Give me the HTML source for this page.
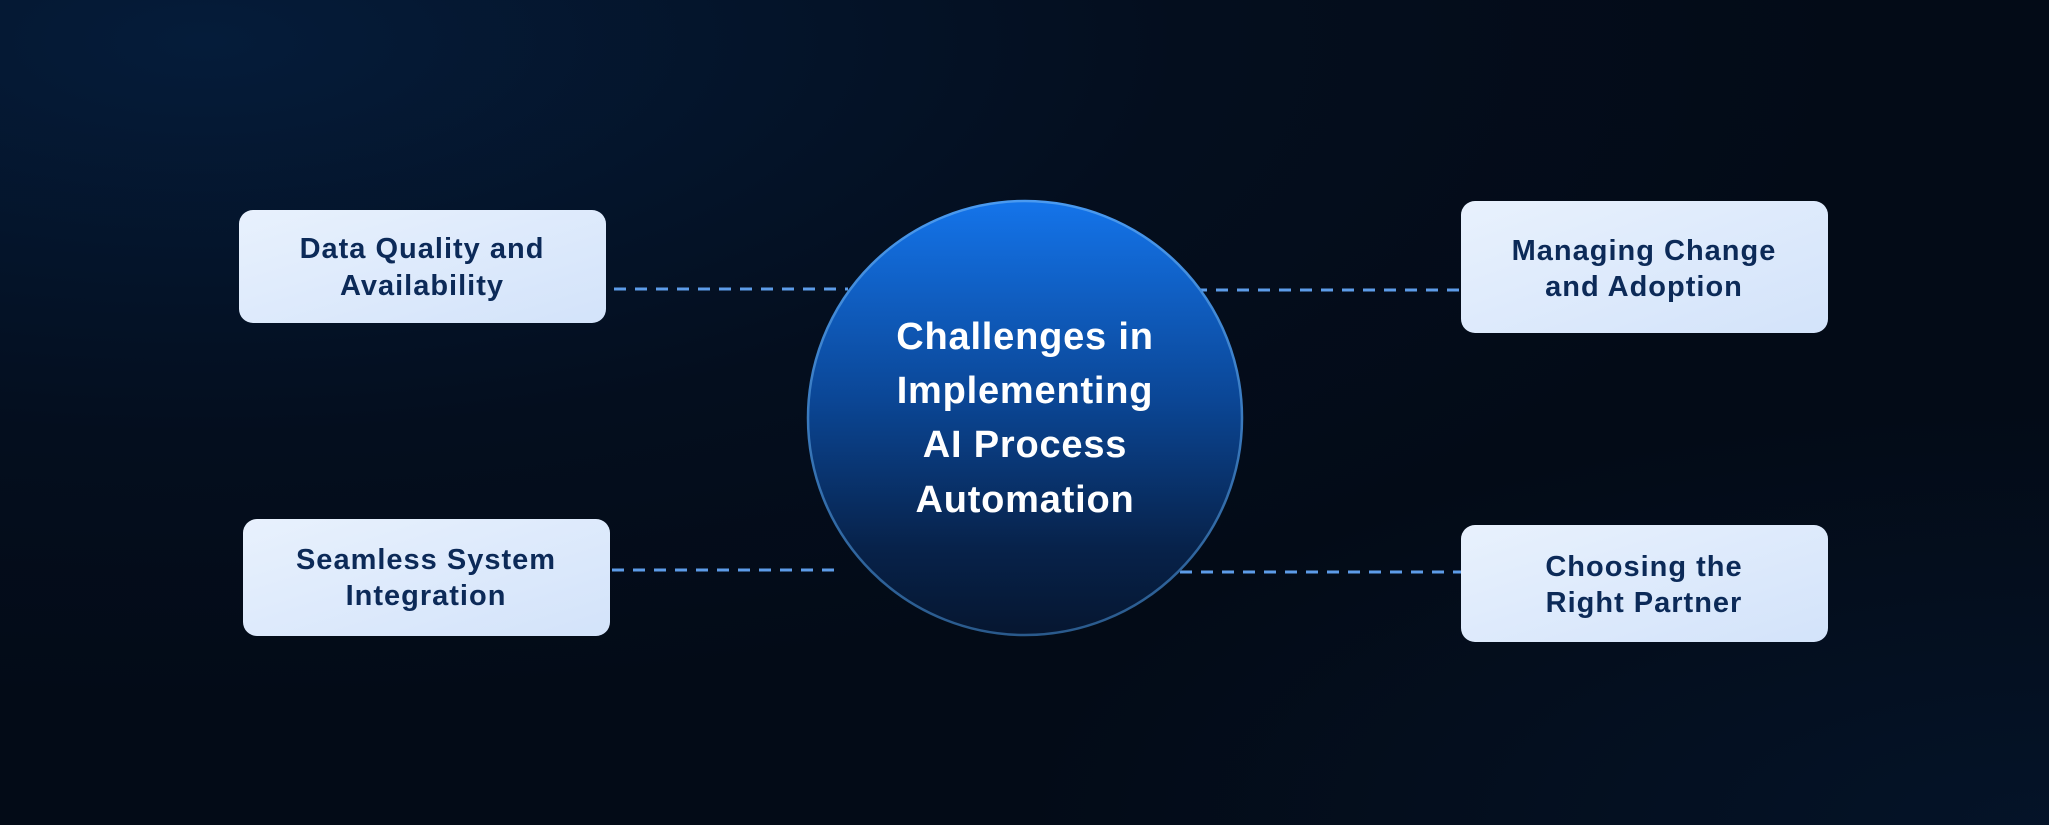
<!DOCTYPE html>
<html><head><meta charset="utf-8"><style>
html,body{margin:0;padding:0;width:2049px;height:825px;overflow:hidden;background:#040c1a}
svg{display:block}
</style></head><body>
<svg width="2049" height="825" viewBox="0 0 2049 825" xmlns="http://www.w3.org/2000/svg">
<defs>
<radialGradient id="bg1" cx="0.1" cy="0.05" r="0.8">
<stop offset="0" stop-color="#051c3a"/><stop offset="0.6" stop-color="#040e1e"/><stop offset="1" stop-color="#030b17"/>
</radialGradient>
<radialGradient id="bg2" cx="1" cy="1" r="0.5">
<stop offset="0" stop-color="#061a36" stop-opacity="0.55"/><stop offset="1" stop-color="#061a36" stop-opacity="0"/>
</radialGradient>
<linearGradient id="cg" x1="0" y1="0" x2="0" y2="1">
<stop offset="0" stop-color="#1474ea"/><stop offset="0.45" stop-color="#0b4797"/><stop offset="0.8" stop-color="#07224a"/><stop offset="1" stop-color="#061630"/>
</linearGradient>
<linearGradient id="cs" x1="0" y1="0" x2="0" y2="1">
<stop offset="0" stop-color="#4a9af0"/><stop offset="1" stop-color="#2a5a8c"/>
</linearGradient>
<linearGradient id="bx" x1="0" y1="0" x2="1" y2="1">
<stop offset="0" stop-color="#e8f1fd"/><stop offset="1" stop-color="#d3e3fa"/>
</linearGradient>
</defs>
<rect width="2049" height="825" fill="url(#bg1)"/>
<rect width="2049" height="825" fill="url(#bg2)"/>
<g stroke="#5d9ce8" stroke-width="3" stroke-dasharray="12 9" fill="none">
<line x1="614" y1="289" x2="848" y2="289"/>
<line x1="1195" y1="290" x2="1461" y2="290"/>
<line x1="612" y1="570" x2="834" y2="570"/>
<line x1="1180" y1="572" x2="1461" y2="572"/>
</g>
<circle cx="1025" cy="418" r="217" fill="url(#cg)" stroke="url(#cs)" stroke-width="2.5"/>
<g font-family="Liberation Sans, sans-serif" font-weight="bold" fill="#ffffff" font-size="38" letter-spacing="0.8" text-anchor="middle">
<text x="1025" y="349">Challenges in</text>
<text x="1025" y="403">Implementing</text>
<text x="1025" y="457">AI Process</text>
<text x="1025" y="512">Automation</text>
</g>
<rect x="239" y="210" width="367" height="113" rx="14" fill="url(#bx)"/>
<rect x="243" y="519" width="367" height="117" rx="14" fill="url(#bx)"/>
<rect x="1461" y="201" width="367" height="132" rx="14" fill="url(#bx)"/>
<rect x="1461" y="525" width="367" height="117" rx="14" fill="url(#bx)"/>
<g font-family="Liberation Sans, sans-serif" font-weight="bold" fill="#0c2a58" font-size="29" letter-spacing="1" text-anchor="middle">
<text x="422" y="258">Data Quality and</text>
<text x="422" y="295">Availability</text>
<text x="426" y="569">Seamless System</text>
<text x="426" y="605">Integration</text>
<text x="1644" y="260">Managing Change</text>
<text x="1644" y="296">and Adoption</text>
<text x="1644" y="576">Choosing the</text>
<text x="1644" y="612">Right Partner</text>
</g>
</svg>
</body></html>
